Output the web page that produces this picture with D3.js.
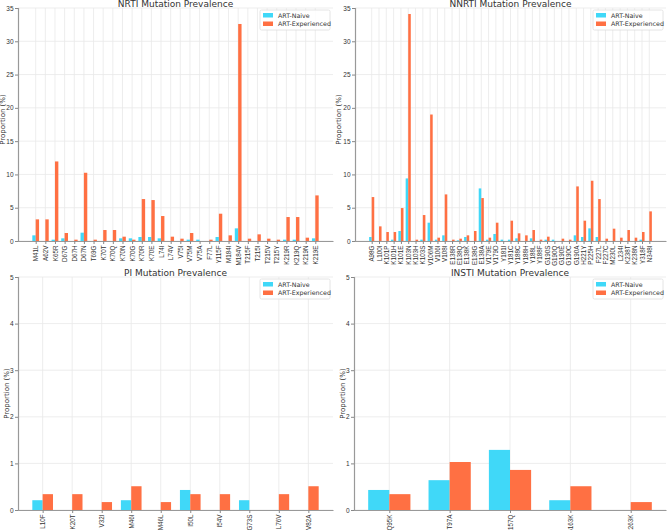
<!DOCTYPE html>
<html><head><meta charset="utf-8">
<script src="https://cdn.jsdelivr.net/npm/d3@7"></script>
<style>body{margin:0;background:#fff}svg{display:block;font-family:"DejaVu Sans",sans-serif}</style>
</head><body><svg id="c" width="667" height="530"></svg>
<script>
const seriesNames = ["ART-Naive", "ART-Experienced"];
const colors = ["#40d8f8", "#ff7043"];

const nrtiCats = ["M41L","A62V","K65R","D67G","D67H","D67N","T69G","K70T","K70Q","K70N","K70G","K70R","K70E","L74I","L74V","V75I","V75M","V75A","F77L","Y115F","M184I","M184V","T215F","T215I","T215V","T215Y","K219R","K219Q","K219N","K219E"];
const nrtiNaive = [0.85,0,0.2,0.4,0,1.25,0,0,0,0.4,0.4,0.6,0.6,0.4,0,0,0.2,0.2,0,0.6,0,1.9,0,0,0,0,0.2,0.2,0,0.4];
const nrtiExp = [3.25,3.25,11.95,1.2,0.2,10.25,0.2,1.65,1.65,0.65,0.2,6.3,6.15,3.75,0.65,0.35,1.2,0,0.2,4.1,0.85,32.6,0.35,1.0,0.35,0.2,3.6,3.6,0.5,6.85];

const nnrtiCats = ["A98G","L100I","K101P","K101H","K101E","K103N","K103H","K103S","V106M","V106I","V108I","E138R","E138Q","E138K","E138G","E138A","V179E","V179D","Y181I","Y181C","Y188C","Y188H","Y188L","Y188F","G190S","G190Q","G190E","G190C","G190A","H221Y","P225H","F227L","F227C","M230L","L234I","K238T","K238N","Y318F","N348I"];
const nnrtiNaive = [0.6,0,0,0.2,1.5,9.4,0,0.2,2.75,0.2,0.85,0,0.1,0.6,0,7.9,0.2,1.05,0.2,0.2,0.4,0,0.4,0,0.2,0.2,0,0,0.85,0.6,1.9,0.6,0,0,0,0,0,0.2,0];
const nnrtiExp = [6.6,2.2,1.35,1.35,4.95,34.1,0.2,3.9,19.0,0.5,7.0,0.2,0.35,0.85,1.5,6.45,0.5,2.75,0,3.05,1.15,0.85,1.65,0.2,0.65,0,0.35,0.2,8.2,3.05,9.05,6.3,0.35,1.85,0.5,1.65,0.5,1.35,4.45];

const piCats = ["L10F","K20T","V32I","M46I","M46L","I50L","I54V","G73S","L76V","V82A"];
const piNaive = [0.21,0,0,0.21,0,0.43,0,0.21,0,0];
const piExp = [0.34,0.34,0.17,0.51,0.17,0.34,0.34,0,0.34,0.51];

const instiCats = ["Q95K","T97A","E157Q","G163K","R263K"];
const instiNaive = [0.43,0.64,1.29,0.21,0];
const instiExp = [0.34,1.03,0.86,0.51,0.17];

const topTicks = [0,5,10,15,20,25,30,35];
const bottomTicks = [0,1,2,3,4,5];

const svg = d3.select("#c");

function panel(o) {
  const g = svg.append("g");
  const n = o.cats.length;
  const w = 0.35;
  const lo = -w, hi = n - 1 + w, m = 0.05 * (hi - lo);
  const x = d3.scaleLinear().domain([lo - m, hi + m]).range([o.x0, o.x1]);
  const y = d3.scaleLinear().domain([0, o.ymax]).range([o.y1, o.y0]);
  // grid
  g.selectAll(".gx").data(o.cats).enter().append("line")
    .attr("x1", (d,i)=>x(i)).attr("x2", (d,i)=>x(i)).attr("y1", o.y0).attr("y2", o.y1)
    .attr("stroke", "#e8e8e8").attr("stroke-width", 0.8);
  g.selectAll(".gy").data(o.ticks).enter().append("line")
    .attr("x1", o.x0).attr("x2", o.x1).attr("y1", d=>y(d)).attr("y2", d=>y(d))
    .attr("stroke", "#e8e8e8").attr("stroke-width", 0.8);
  // bars
  [o.naive, o.exp].forEach((vals, s) => {
    g.selectAll(".b" + s).data(vals).enter().append("rect")
      .attr("x", (d,i)=> x(i + (s === 0 ? -w : 0)))
      .attr("width", x(w) - x(0))
      .attr("y", d => y(d)).attr("height", d => y(0) - y(d))
      .attr("fill", colors[s]);
  });
  // axes
  const ya = g.append("g").attr("transform", `translate(${o.x0},0)`)
    .call(d3.axisLeft(y).tickValues(o.ticks).tickFormat(d3.format("d")).tickSize(3).tickPadding(1.5));
  ya.select(".domain").attr("stroke", "#999").attr("stroke-width", 1.2);
  ya.selectAll(".tick line").attr("stroke", "#888");
  ya.selectAll("text").attr("font-size", 6.5).attr("fill", "#333");
  const xa = g.append("g").attr("transform", `translate(0,${o.y1})`)
    .call(d3.axisBottom(x).tickValues(d3.range(n)).tickFormat(i=>o.cats[i]).tickSize(3).tickPadding(2).tickSizeOuter(0));
  xa.select(".domain").attr("stroke", "#999").attr("stroke-width", 1.2);
  xa.selectAll(".tick line").attr("stroke", "#888");
  xa.selectAll("text").attr("font-size", 6.3).attr("fill", "#333")
    .attr("transform", "rotate(-90)").attr("text-anchor", "end")
    .attr("x", -4.5).attr("y", 0).attr("dy", "0.32em");
  // title
  g.append("text").attr("x", (o.x0 + o.x1) / 2).attr("y", o.y0 - 1.5)
    .attr("text-anchor", "middle").attr("font-size", 9).attr("fill", "#333").text(o.title);
  // ylabel
  g.append("text").attr("transform", `translate(${o.x0 - o.yl},${(o.y0 + o.y1) / 2 + o.ylShift}) rotate(-90)`)
    .attr("text-anchor", "middle").attr("dy", "0.35em").attr("font-size", 7).attr("fill", "#333").text("Proportion (%)");
  // legend
  const lx = o.x1 - 73, ly = o.y0 + 2;
  g.append("rect").attr("x", lx).attr("y", ly).attr("width", 70).attr("height", 20)
    .attr("fill", "#fff").attr("fill-opacity", 0.85).attr("stroke", "#ddd").attr("stroke-width", 0.8).attr("rx", 1.5);
  seriesNames.forEach((s, i) => {
    g.append("rect").attr("x", lx + 3).attr("y", ly + 3 + i * 8.5).attr("width", 10).attr("height", 4.5).attr("fill", colors[i]);
    g.append("text").attr("x", lx + 18).attr("y", ly + 7.5 + i * 8.5).attr("font-size", 6.3).attr("fill", "#333").text(s);
  });
}

panel({title:"NRTI Mutation Prevalence", cats:nrtiCats, naive:nrtiNaive, exp:nrtiExp, x0:18, x1:333, y0:8, y1:241, ymax:35, ticks:topTicks, yl:15, ylShift:-5});
panel({title:"NNRTI Mutation Prevalence", cats:nnrtiCats, naive:nnrtiNaive, exp:nnrtiExp, x0:355, x1:666, y0:8, y1:241, ymax:35, ticks:topTicks, yl:16, ylShift:-5});
panel({title:"PI Mutation Prevalence", cats:piCats, naive:piNaive, exp:piExp, x0:18, x1:333, y0:277, y1:510, ymax:5, ticks:bottomTicks, yl:11, ylShift:0});
panel({title:"INSTI Mutation Prevalence", cats:instiCats, naive:instiNaive, exp:instiExp, x0:354, x1:666, y0:277, y1:510, ymax:5, ticks:bottomTicks, yl:11, ylShift:0});
</script></body></html>
